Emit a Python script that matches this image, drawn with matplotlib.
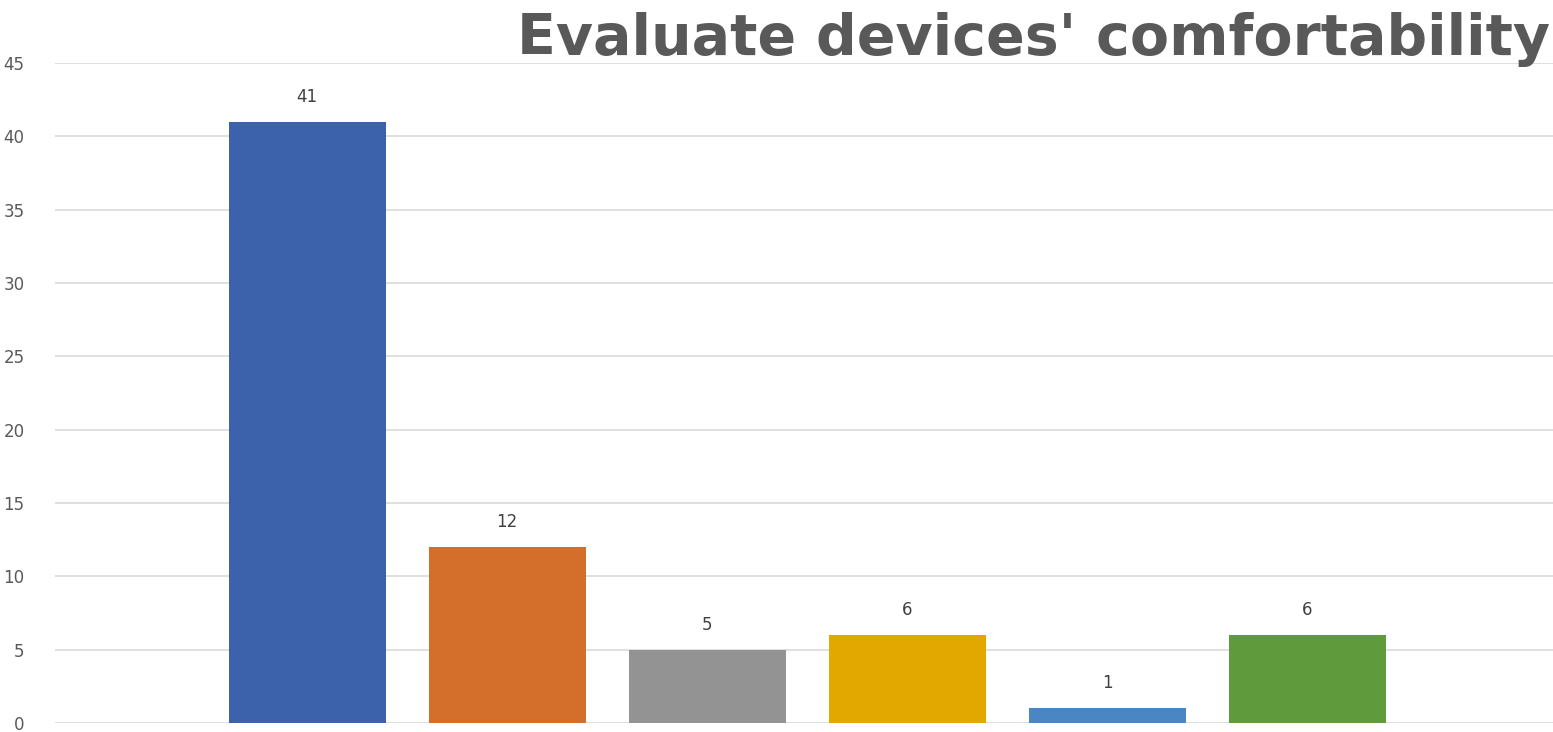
import matplotlib
matplotlib.use('Agg')
import matplotlib.pyplot as plt

# Respuestas por dispositivo
categorias = ['A', 'B', 'C', 'D', 'E', 'F']
valores = [41, 12, 5, 6, 1, 6]
colores = ['#3B62AB', '#D46E2B', '#939393', '#E2A800', '#4A86C3', '#5F9A3C']
yticks = [0, 5, 10, 15, 20, 25, 30, 35, 40, 45]

W, H = 1553, 732
fig = plt.figure(figsize=(W / 100, H / 100), dpi=100)
ax = fig.add_axes([55 / W, 9 / H, 1 - 55 / W, 660 / H])

x = range(len(valores))
barras = ax.bar(x, valores, width=0.785, color=colores, zorder=2)
for b, v in zip(barras, valores):
    ax.text(b.get_x() + b.get_width() / 2, v + 1.1, str(v),
            ha='center', va='bottom', fontsize=12, color='#404040',
            family='DejaVu Sans')

ax.set_xlim(-1.26, 6.23)
ax.set_ylim(0, 45)
ax.set_yticks(yticks)
ax.set_xticks([])
ax.yaxis.grid(True, color='#D9D9D9', linewidth=1.2, zorder=0)
for s in ax.spines.values():
    s.set_visible(False)
ax.tick_params(axis='y', length=0, pad=22, labelsize=12, labelcolor='#595959')

fig.text(1550 / W, 1 - 55 / H, "Evaluate devices' comfortability",
         ha='right', va='baseline', fontsize=41, fontweight='bold',
         color='#595959', family='DejaVu Sans')

plt.savefig('out.png', dpi=100)
